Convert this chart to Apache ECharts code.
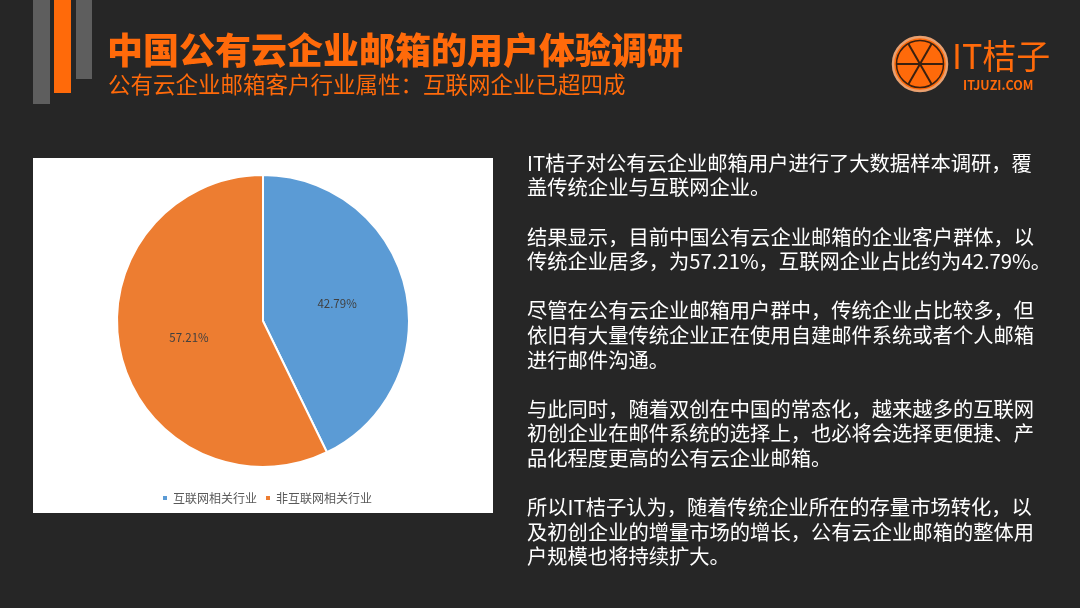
<!DOCTYPE html>
<html><head><meta charset="utf-8">
<script src="https://cdn.jsdelivr.net/npm/echarts@6/dist/echarts.min.js"></script>
<style>html,body{margin:0;padding:0;background:#262626;}#c{width:1080px;height:608px;}</style>
</head><body><div id="c"></div>
<script>
const categories = ['互联网相关行业', '非互联网相关行业'];
const values = [42.79, 57.21];
const titleText = '中国公有云企业邮箱的用户体验调研';
const subtitleText = '公有云企业邮箱客户行业属性：互联网企业已超四成';
const bodyLines = [
  'IT桔子对公有云企业邮箱用户进行了大数据样本调研，覆',
  '盖传统企业与互联网企业。',
  '',
  '结果显示，目前中国公有云企业邮箱的企业客户群体，以',
  '传统企业居多，为57.21%，互联网企业占比约为42.79%。',
  '',
  '尽管在公有云企业邮箱用户群中，传统企业占比较多，但',
  '依旧有大量传统企业正在使用自建邮件系统或者个人邮箱',
  '进行邮件沟通。',
  '',
  '与此同时，随着双创在中国的常态化，越来越多的互联网',
  '初创企业在邮件系统的选择上，也必将会选择更便捷、产',
  '品化程度更高的公有云企业邮箱。',
  '',
  '所以IT桔子认为，随着传统企业所在的存量市场转化，以',
  '及初创企业的增量市场的增长，公有云企业邮箱的整体用',
  '户规模也将持续扩大。'
];

const FONT = '"Noto Sans CJK SC", "Noto Sans", sans-serif';
const chart = echarts.init(document.getElementById('c'), null, {renderer: 'canvas'});

const graphics = [];
// decorative bars
graphics.push({type:'rect', shape:{x:33,y:0,width:17,height:104}, style:{fill:'#5e5e5e'}, z:0});
graphics.push({type:'rect', shape:{x:54,y:0,width:17,height:93}, style:{fill:'#ff6a0a'}, z:0});
graphics.push({type:'rect', shape:{x:76,y:0,width:16,height:79}, style:{fill:'#5e5e5e'}, z:0});
// title
graphics.push({type:'text', left:107, top:32, style:{text:titleText, fill:'#ff6a0a', font:'900 36px ' + FONT}, z:1});
graphics.push({type:'text', left:108, top:73, style:{text:subtitleText, fill:'#ff6a0a', font:'22.5px ' + FONT}, z:1});
// white panel
graphics.push({type:'rect', shape:{x:33,y:158,width:460,height:355}, style:{fill:'#ffffff'}, z:0});
// logo
const cx = 920, cy = 64;
graphics.push({type:'circle', shape:{cx:cx, cy:cy, r:27}, style:{fill:'#ff6a0a', stroke:'#e8a070', lineWidth:2.5}, z:1});
graphics.push({type:'circle', shape:{cx:cx, cy:cy, r:23.5}, style:{fill:'none', stroke:'#3a2010', lineWidth:1.5}, z:1});
for (let k = 0; k < 3; k++) {
  const a = Math.PI * k / 3;
  graphics.push({type:'line', shape:{x1:cx - 23*Math.cos(a), y1:cy - 23*Math.sin(a), x2:cx + 23*Math.cos(a), y2:cy + 23*Math.sin(a)}, style:{stroke:'#3a2010', lineWidth:2}, z:2});
}
graphics.push({type:'text', left:952, top:39, style:{text:'IT桔子', fill:'#ff6a0a', font:'34px ' + FONT}, z:1});
graphics.push({type:'text', left:963, top:79, style:{text:'ITJUZI.COM', fill:'#ff6a0a', font:'bold 12.5px ' + FONT}, z:1});
// body text
bodyLines.forEach((ln, i) => {
  if (!ln) return;
  graphics.push({type:'text', left:527, top:153 + i*24.6, style:{text:ln, fill:'#ffffff', font:'20.3px ' + FONT}, z:1});
});

chart.setOption({
  backgroundColor: '#262626',
  animation: false,
  graphic: graphics,
  legend: {
    data: categories,
    left: 156, top: 487,
    icon: 'rect', itemWidth: 6, itemHeight: 6, itemGap: 7,
    textStyle: {color: '#595959', fontSize: 12, fontFamily: FONT},
    z: 5
  },
  series: [{
    type: 'pie',
    z: 5,
    center: [263, 321],
    radius: 146,
    startAngle: 90,
    clockwise: true,
    data: categories.map((c, i) => ({name: c, value: values[i]})),
    color: ['#5b9bd5', '#ed7d31'],
    itemStyle: {borderColor: '#ffffff', borderWidth: 2},
    label: {position: 'inside', formatter: p => p.value.toFixed(2) + '%', color: '#404040', fontSize: 11.5, fontFamily: FONT},
    labelLine: {show: false},
    emphasis: {disabled: true}
  }]
});
</script></body></html>
